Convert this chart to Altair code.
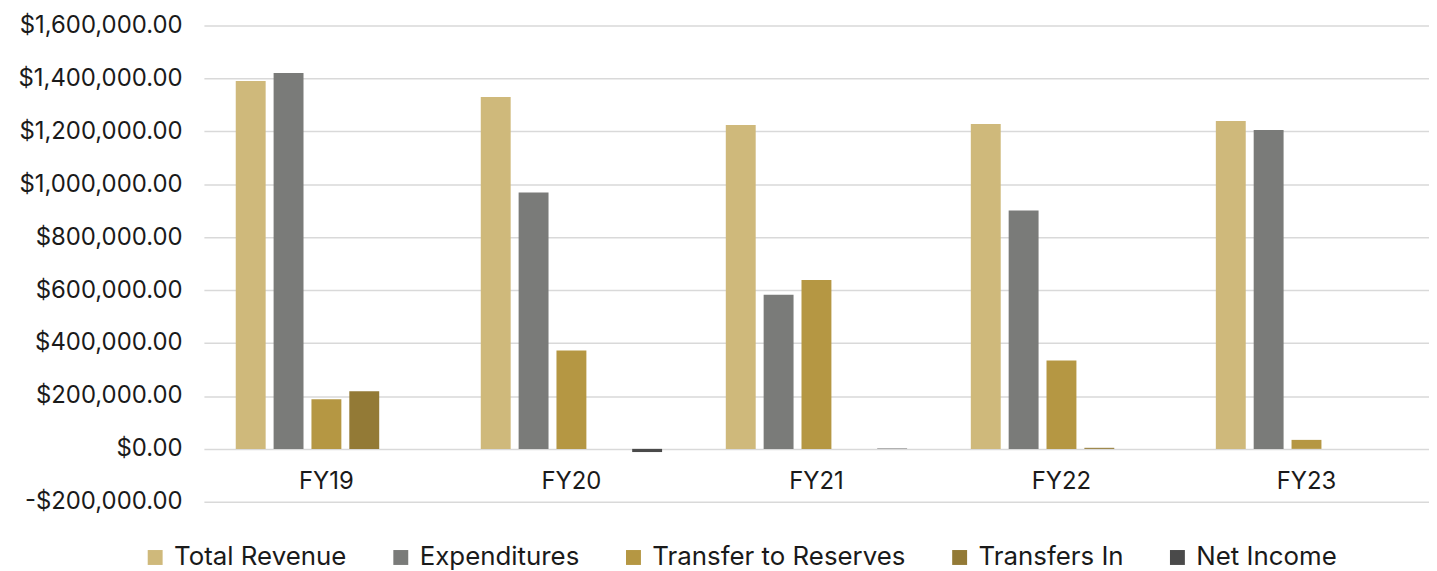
import altair as alt
import pandas as pd

years = ["FY19", "FY20", "FY21", "FY22", "FY23"]
series = ["Total Revenue", "Expenditures", "Transfer to Reserves", "Transfers In", "Net Income"]
total_revenue = [1390000, 1330000, 1224000, 1228000, 1239000]
expenditures = [1420000, 969000, 582000, 901000, 1205000]
transfer_to_reserves = [188000, 372000, 638000, 334000, 34000]
transfers_in = [218000, 0, 0, 4000, 0]
net_income = [0, -12000, 1500, 0, 0]
colors = ["#CFB97B", "#7A7B79", "#B59743", "#937A36", "#4A4A4A"]

values = [total_revenue, expenditures, transfer_to_reserves, transfers_in, net_income]
rows = []
for s, vals in zip(series, values):
    for y, v in zip(years, vals):
        rows.append({"year": y, "series": s, "value": v})
df = pd.DataFrame(rows)

FONT = "Inter"

chart = alt.Chart(df).mark_bar().encode(
    x=alt.X("year:N", sort=years, title=None,
            scale=alt.Scale(paddingInner=0.26, paddingOuter=0.13),
            axis=alt.Axis(domain=False, ticks=False, labelAngle=0, labelFontSize=24,
                          labelColor="#1a1a1a", labelPadding=21, offset=-53, grid=False,
                          labelFont=FONT)),
    xOffset=alt.XOffset("series:N", sort=series,
                        scale=alt.Scale(paddingInner=0.21, paddingOuter=0.0)),
    y=alt.Y("value:Q", title=None,
            scale=alt.Scale(domain=[-200000, 1600000], nice=False),
            axis=alt.Axis(values=list(range(-200000, 1600001, 200000)),
                          labelExpr="datum.value < 0 ? '-$' + format(-datum.value, ',.2f') : '$' + format(datum.value, ',.2f')",
                          domain=False, ticks=False, labelFontSize=24, labelColor="#1a1a1a",
                          labelPadding=22, gridColor="#D9D9D9", gridWidth=1.5,
                          labelFont=FONT)),
    color=alt.Color("series:N", sort=series,
                    scale=alt.Scale(domain=series, range=colors),
                    legend=alt.Legend(orient="none", legendX=-62, legendY=522,
                                      direction="horizontal", title=None,
                                      symbolType="square", symbolSize=225, labelFontSize=26,
                                      labelFont=FONT, labelColor="#1a1a1a", labelOffset=6,
                                      labelLimit=0, columnPadding=41, symbolStrokeWidth=0)),
).properties(
    width=1232, height=479,
    padding={"left": 197, "top": 16, "right": 0, "bottom": 67},
    autosize=alt.AutoSizeParams(type="none"),
).configure_view(stroke=None)

chart.save("out.html", embed_options={"renderer": "svg", "actions": False})
